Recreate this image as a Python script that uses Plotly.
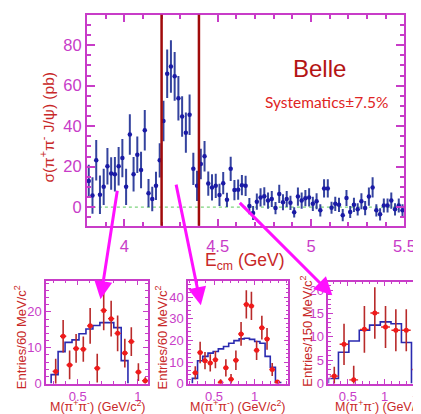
import plotly.graph_objects as go

# ---------------- main panel: sigma(pi+ pi- J/psi) vs E_cm ----------------
ecm = [3.81, 3.83, 3.85, 3.87, 3.89, 3.91, 3.93, 3.95, 3.97, 3.99,
       4.01, 4.03, 4.05, 4.07, 4.09, 4.11, 4.13, 4.15, 4.17, 4.19,
       4.21, 4.23, 4.25, 4.27, 4.29, 4.31, 4.33, 4.35, 4.37, 4.39,
       4.41, 4.43, 4.45, 4.47, 4.49, 4.51, 4.53, 4.55, 4.57, 4.59,
       4.61, 4.63, 4.65, 4.67, 4.69, 4.71, 4.73, 4.75, 4.77, 4.79,
       4.81, 4.83, 4.85, 4.87, 4.89, 4.91, 4.93, 4.95, 4.97, 4.99,
       5.01, 5.03, 5.05, 5.07, 5.09, 5.11, 5.13, 5.15, 5.17, 5.19,
       5.21, 5.23, 5.25, 5.27, 5.29, 5.31, 5.33, 5.35, 5.37, 5.39,
       5.41, 5.43, 5.45, 5.47, 5.49]
xsec = [12.9, 5.7, 23.1, 6.1, 10.0, 20.2, 16.6, 16.2, 20.2, 24.2,
        10.0, 35.9, 16.2, 25.9, 18.3, 38.0, 6.9, 4.0, 10.5, 23.1,
        42.5, 65.9, 69.5, 64.6, 53.8, 44.8, 36.8, 45.6, 18.9, 10.5,
        21.3, 25.1, 11.6, 9.7, 10.5, 6.0, 11.8, 3.6, 18.9, 8.4,
        8.6, 10.8, 10.5, 0.5, -2.9, 2.7, 4.8, 5.3, 3.2, 4.0,
        -0.5, 6.5, 2.4, 4.0, 2.1, -2.6, 5.2, 3.2, 4.4, 4.8,
        1.6, 2.9, -1.6, 9.2, 9.2, -0.3, 1.6, 1.1, -4.0, 4.5,
        -2.4, 1.1, -1.1, 2.9, -0.5, 5.2, 9.7, -1.6, -3.6, 0.8,
        0.8, 3.2, -1.1, 0.8, -1.6]
xsec_err = [8, 9, 10, 9.5, 9, 9, 8, 8.5, 9.5, 9.5,
            9, 10, 8.5, 9, 9, 10, 7, 6, 7, 8.5,
            10, 12, 13, 12, 11, 10, 10, 10, 8, 7.5,
            7.5, 7.5, 6, 6.5, 6, 5.5, 5.5, 3.5, 6, 5,
            5, 5, 5, 4, 3.5, 4, 4.5, 4.5, 4, 4,
            3, 4.5, 4, 4, 3.5, 2.5, 4.5, 4, 4, 4.5,
            3.5, 4, 3, 4.5, 4.5, 3, 3.5, 3.5, 3, 4,
            3, 3.5, 3, 4, 3.5, 4.5, 5, 3, 3, 3.5,
            3.5, 4, 3, 3.5, 3]
window_ecm = [4.2, 4.4]

# ---------------- lower panels: M(pi+ pi-) distributions ----------------
p1_mass = [0.316, 0.378, 0.432, 0.486, 0.546, 0.603, 0.662, 0.716, 0.778, 0.832, 0.892, 0.946, 1.005, 1.062]
p1_n = [3.4, 13.2, 5.2, 9.8, 9.6, 16.1, 4.3, 20.4, 18.1, 14.0, 8.5, 11.7, 3.2, 0.8]
p1_err = [3.5, 4.5, 4, 4, 3.5, 5, 4, 5.5, 5, 5, 4, 4, 2.5, 1]
p1_edges = [0.278, 0.336, 0.394, 0.452, 0.510, 0.568, 0.626, 0.684, 0.742, 0.800, 0.862, 0.918]
p1_hist = [2.5, 8.9, 11.5, 12.2, 13.9, 15.2, 16.2, 17.0, 17.0, 15.6, 6.4]

p2_mass = [0.268, 0.328, 0.388, 0.453, 0.517, 0.581, 0.646, 0.71, 0.77, 0.834, 0.899, 0.962, 1.026, 1.091, 1.155, 1.219, 1.283]
p2_n = [5.0, 14.4, 10.6, 9.6, 11.1, 0.5, 7.3, 2.0, 10.8, 23.0, 36.7, 36.0, 15.4, 25.9, 20.7, 6.5, 0.7]
p2_err = [3, 5, 4, 4, 4, 1.5, 4, 2.5, 4.5, 5.5, 6.5, 6.5, 4.5, 5.5, 5, 3, 1]
p2_edges = [0.232, 0.296, 0.360, 0.425, 0.489, 0.553, 0.617, 0.681, 0.746, 0.810, 0.874, 0.938, 1.002, 1.067, 1.131, 1.195, 1.259, 1.323]
p2_hist = [2.4, 10.6, 12.6, 14.1, 14.9, 16.1, 17.2, 18.7, 19.9, 20.7, 21.0, 20.5, 19.5, 18.7, 12.6, 7.6, 0.5]

p3_mass = [0.314, 0.447, 0.579, 0.725, 0.867, 1.013, 1.154, 1.296, 1.44]
p3_n = [1.6, 8.4, 0.8, 11.6, 15.1, 12.1, 11.4, 11.4, 3.0]
p3_err = [2, 4.4, 3, 5, 5.5, 4.5, 4.5, 4.5, 2.5]
p3_edges = [0.234, 0.371, 0.513, 0.655, 0.796, 0.942, 1.088, 1.23, 1.367]
p3_hist = [1.1, 6.7, 9.1, 11.4, 12.5, 13.2, 12.8, 8.8]

MAG = "#c83cc8"
RED = "#c82828"
FONT = "Liberation Sans"
W, H = 421, 414


def hist_xy(edges, vals):
    return [edges[0]] + list(edges), [0] + list(vals) + [0]


fig = go.Figure()

fig.add_trace(go.Scatter(
    x=ecm, y=xsec, mode="markers", xaxis="x", yaxis="y",
    marker=dict(color="#1a1aa6", size=4.5),
    error_y=dict(type="data", array=xsec_err, color="#34439e", thickness=2, width=0),
))

panels = [
    ("x2", "y2", p1_mass, p1_n, p1_err, p1_edges, p1_hist, 0.026),
    ("x3", "y3", p2_mass, p2_n, p2_err, p2_edges, p2_hist, 0.035),
    ("x4", "y4", p3_mass, p3_n, p3_err, p3_edges, p3_hist, 0.06),
]
for xa, ya, m, n, e, edges, hv, xe in panels:
    hx, hy = hist_xy(edges, hv)
    fig.add_trace(go.Scatter(x=hx, y=hy, mode="lines", line=dict(color="#2a2ab0", width=1.6, shape="hv"),
                             xaxis=xa, yaxis=ya))
    fig.add_trace(go.Scatter(
        x=m, y=n, mode="markers", xaxis=xa, yaxis=ya,
        marker=dict(color="#f01a1a", size=5),
        error_y=dict(type="data", array=e, color="#b82a2a", thickness=1.6, width=0),
        error_x=dict(type="constant", value=xe, color="#e02020", thickness=1.4, width=0),
    ))


def axis_common(size):
    return dict(showline=True, linecolor=MAG, ticks="inside", tickcolor=MAG,
                showgrid=False, zeroline=False,
                tickfont=dict(family=FONT, size=size, color=MAG))


fig.update_layout(
    width=W, height=H, margin=dict(l=0, r=0, t=0, b=0),
    paper_bgcolor="white", plot_bgcolor="white", showlegend=False,
    xaxis=dict(domain=[81 / W, 407 / W], anchor="y", range=[3.8, 5.5], tickvals=[4, 4.5, 5, 5.5],
               ticktext=["4", "4.5", "5", "5.5"], linewidth=2, mirror="ticks", ticklen=7, tickwidth=1.5,
               minor=dict(dtick=0.1, tick0=4, ticklen=4, ticks="inside", tickcolor=MAG),
               ticklabelstandoff=4, **axis_common(16.5)),
    yaxis=dict(domain=[1 - 222 / H, 1 - 7 / H], anchor="x", range=[-9.2, 95], tickvals=[0, 20, 40, 60, 80],
               linewidth=2, mirror="ticks", ticklen=8, tickwidth=1.5,
               minor=dict(dtick=5, tick0=0, ticklen=4, ticks="inside", tickcolor=MAG),
               **axis_common(16.5)),
    xaxis2=dict(domain=[39 / W, 144 / W], anchor="y2", range=[0.235, 1.087], tickvals=[0.5, 1],
                linewidth=1.5, mirror="ticks", ticklen=5,
                minor=dict(dtick=0.1, tick0=0, ticklen=3, ticks="inside", tickcolor=MAG), **axis_common(13)),
    yaxis2=dict(domain=[1 - 383 / H, 1 - 278 / H], anchor="x2", range=[0, 28.7], tickvals=[0, 10, 20],
                linewidth=1.5, mirror="ticks", ticklen=5,
                minor=dict(dtick=2, tick0=0, ticklen=3, ticks="inside", tickcolor=MAG), **axis_common(13)),
    xaxis3=dict(domain=[185 / W, 288 / W], anchor="y3", range=[0.18, 1.42], tickvals=[0.5, 1],
                linewidth=1.5, mirror="ticks", ticklen=5,
                minor=dict(dtick=0.1, tick0=0, ticklen=3, ticks="inside", tickcolor=MAG), **axis_common(13)),
    yaxis3=dict(domain=[1 - 383 / H, 1 - 278 / H], anchor="x3", range=[0, 47.7], tickvals=[0, 10, 20, 30, 40],
                linewidth=1.5, mirror="ticks", ticklen=5,
                minor=dict(dtick=2, tick0=0, ticklen=3, ticks="inside", tickcolor=MAG), **axis_common(13)),
    xaxis4=dict(domain=[329 / W, 1.0], anchor="y4", range=[0.234, 1.456], tickvals=[0.5, 1],
                linewidth=1.5, mirror="ticks", ticklen=5,
                minor=dict(dtick=0.1, tick0=0, ticklen=3, ticks="inside", tickcolor=MAG), **axis_common(13)),
    yaxis4=dict(domain=[1 - 383 / H, 1 - 279 / H], anchor="x4", range=[0, 21.8], tickvals=[0, 5, 10, 15, 20],
                linewidth=1.5, mirror=False, ticklen=5,
                minor=dict(dtick=1, tick0=0, ticklen=3, ticks="inside", tickcolor=MAG), **axis_common(13)),
)

# green dotted zero line and the dark-red E_cm window
fig.add_shape(type="line", xref="x domain", yref="y", x0=0, x1=1, y0=0, y1=0,
              line=dict(color="#5cc85c", width=1, dash="dot"), layer="below")
for xv in window_ecm:
    fig.add_shape(type="line", xref="x", yref="y domain", x0=xv, x1=xv, y0=0, y1=1,
                  line=dict(color="#a00a0a", width=2.5))

ann = []
# axis titles
ann.append(dict(x=40 / W, y=1 - 121 / H, text="σ(π<sup>+</sup>π<sup>-</sup> J/ψ) (pb)", textangle=-90,
                font=dict(family=FONT, size=15.5, color=RED)))
ann.append(dict(x=243 / W, y=1 - 258 / H, text="E<sub>cm</sub> (GeV)",
                font=dict(family=FONT, size=17.5, color=RED)))
ann.append(dict(x=320 / W, y=1 - 62 / H, text="Belle", font=dict(family=FONT, size=24, color="#b41414")))
ann.append(dict(x=327 / W, y=1 - 96 / H, text="Systematics±7.5%", font=dict(family="Lato", size=15.5, color="#e02424")))
mtitle = "M(π<sup>+</sup>π<sup>-</sup>) (GeV/c<sup>2</sup>)"
ann.append(dict(x=91.7 / W, y=1 - 406 / H, text=mtitle, font=dict(family=FONT, size=12.5, color=RED)))
ann.append(dict(x=236 / W, y=1 - 406 / H, text=mtitle, font=dict(family=FONT, size=12.5, color=RED)))
ann.append(dict(x=385 / W, y=1 - 406 / H, text=mtitle, font=dict(family=FONT, size=12.5, color=RED)))
ann.append(dict(x=12 / W, y=1 - 336 / H, text="Entries/60 MeV/c<sup>2</sup>", textangle=-90,
                font=dict(family=FONT, size=13, color=RED)))
ann.append(dict(x=157 / W, y=1 - 336 / H, text="Entries/60 MeV/c<sup>2</sup>", textangle=-90,
                font=dict(family=FONT, size=13, color=RED)))
ann.append(dict(x=306 / W, y=1 - 330 / H, text="Entries/150 MeV/c<sup>2</sup>", textangle=-90,
                font=dict(family=FONT, size=13, color=RED)))
# clipped 1.5 tick label of the third panel
ann.append(dict(x=424.3 / W, y=1 - 392 / H, text="1.5", font=dict(family=FONT, size=13, color=MAG)))
for a in ann:
    a.update(xref="paper", yref="paper", showarrow=False, xanchor="center", yanchor="middle")

# magenta arrows from the E_cm regions to the mass panels
arrows = [((95, 297), (112, 187)), ((198, 303), (173, 181)), ((333, 293), (239, 199))]
for (hx, hy), (tx, ty) in arrows:
    ann.append(dict(x=hx / W, y=1 - hy / H, xref="paper", yref="paper", ax=tx - hx, ay=ty - hy,
                    showarrow=True, arrowhead=2, arrowsize=1.2, arrowwidth=3, arrowcolor="#ff10ff", text=""))

fig.update_layout(annotations=ann)
fig.write_html("out.html")
